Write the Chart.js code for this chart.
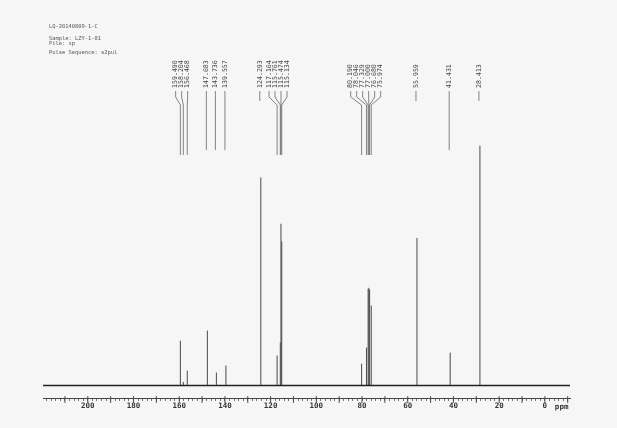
<!DOCTYPE html>
<html><head><meta charset="utf-8">
<script src="https://cdn.jsdelivr.net/npm/chart.js@4.4.1/dist/chart.umd.min.js"></script>
<style>
html,body{margin:0;padding:0;background:#f6f6f6;}
#wrap{position:relative;width:617px;height:428px;overflow:hidden;}
canvas{position:absolute;left:0;top:0;}
.hdr{position:absolute;left:49px;font-family:"DejaVu Sans Mono",monospace;font-size:5.4px;color:#555;white-space:pre;line-height:1;}
</style></head><body>
<div id="wrap">
<canvas id="c" width="617" height="428"></canvas>
<div class="hdr" style="top:23.6px">LQ-20140809-1-C</div>
<div class="hdr" style="top:36px">Sample: LZY-1-81</div>
<div class="hdr" style="top:41px">File: xp</div>
<div class="hdr" style="top:50.3px">Pulse Sequence: s2pul</div>
</div>
<script>
// Chemical shifts (ppm) of the labelled peaks
const peakPpm = [159.490,158.204,156.468,147.683,143.736,139.557,124.293,117.164,115.761,115.474,115.134,80.190,78.046,77.329,77.000,76.680,75.974,55.959,41.431,28.413];
// Peak labels as printed
const peakLabels = ["159.490","158.204","156.468","147.683","143.736","139.557","124.293","117.164","115.761","115.474","115.134","80.190","78.046","77.329","77.000","76.680","75.974","55.959","41.431","28.413"];
// Relative peak intensities (tallest = 100)
const peakHeights = [18.7,1.5,6.2,22.9,5.4,8.3,86.7,12.5,17.9,67.4,60.0,9.1,15.8,40.3,40.7,39.9,33.3,61.5,13.7,100];
// Axis range and tick labels
const ppmMax = 219.6, ppmMin = -11;
const axisLabels = [0,20,40,60,80,100,120,140,160,180,200];

const baselineData = [{x:ppmMax,y:0},{x:ppmMin,y:0}];
const peakData = [];
peakPpm.forEach((p,i)=>{ peakData.push({x:p,y:0},{x:p,y:peakHeights[i]},{x:p,y:null}); });

const peakLabelPlugin = {
  id:'peakLabels',
  afterDraw(chart){
    const xs = chart.scales.x, ctx = chart.ctx;
    const items = peakPpm.map((p,i)=>({px:xs.getPixelForValue(p), txt:peakLabels[i], tall:peakHeights[i]>50}));
    items.sort((a,b)=>a.px-b.px);
    const gap = 6;
    let clusters = items.map(it=>({items:[it], center:it.px}));
    let changed = true;
    while(changed){
      changed = false;
      for(let i=0;i<clusters.length-1;i++){
        const a=clusters[i], b=clusters[i+1];
        const aR=a.center+(a.items.length-1)*gap/2;
        const bL=b.center-(b.items.length-1)*gap/2;
        if(bL-aR<gap){
          const its=a.items.concat(b.items);
          const c=its.reduce((s,t)=>s+t.px,0)/its.length;
          clusters.splice(i,2,{items:its,center:c});
          changed=true; break;
        }
      }
    }
    ctx.save();
    ctx.strokeStyle='#666'; ctx.lineWidth=0.8; ctx.fillStyle='#444';
    ctx.font='6.6px "DejaVu Sans Mono", monospace';
    clusters.forEach(cl=>{
      const n=cl.items.length;
      cl.items.forEach((it,j)=>{
        const lx = n===1 ? it.px - 1 : cl.center - 2 + (j-(n-1)/2)*gap;
        ctx.save();
        ctx.translate(lx, 88);
        ctx.rotate(-Math.PI/2);
        ctx.textAlign='left'; ctx.textBaseline='middle';
        ctx.fillText(it.txt,0,0);
        ctx.restore();
        ctx.beginPath();
        if(n===1){
          ctx.moveTo(lx,91); ctx.lineTo(lx, it.tall ? 101 : 150);
        } else {
          ctx.moveTo(lx,91); ctx.lineTo(lx,97); ctx.lineTo(it.px,105); ctx.lineTo(it.px,155);
        }
        ctx.stroke();
      });
    });
    // major ticks
    ctx.strokeStyle='#444'; ctx.lineWidth=0.9;
    for(let v=-10; v<=ppmMax; v+=10){
      const x=xs.getPixelForValue(v);
      ctx.beginPath(); ctx.moveTo(x,396); ctx.lineTo(x,403); ctx.stroke();
    }
    ctx.fillStyle='#333';
    ctx.font='bold 7.5px "DejaVu Sans Mono", monospace';
    ctx.textAlign='left'; ctx.textBaseline='middle';
    ctx.fillText('ppm', xs.getPixelForValue(0)+10, 407.5);
    ctx.restore();
  }
};

new Chart(document.getElementById('c'), {
  type:'line',
  data:{datasets:[
    {data:baselineData, borderColor:'#222', borderWidth:1.5, pointRadius:0, tension:0},
    {data:peakData, borderColor:'#4a4a4a', borderWidth:1, pointRadius:0, tension:0, spanGaps:false}
  ]},
  options:{
    responsive:false, animation:false, devicePixelRatio:1,
    layout:{padding:{left:43,right:47,top:145.5,bottom:0}},
    plugins:{legend:{display:false}, tooltip:{enabled:false}},
    scales:{
      x:{type:'linear', reverse:true, min:ppmMin, max:ppmMax, position:'bottom',
         afterFit:(s)=>{s.height=30;},
         border:{display:true, color:'#444', width:1},
         grid:{display:true, drawOnChartArea:false, drawTicks:true, tickLength:3, tickColor:'#555', tickWidth:0.8},
         ticks:{stepSize:2, autoSkip:false, maxRotation:0, includeBounds:false, padding:1, color:'#333',
           font:{family:'"DejaVu Sans Mono", monospace', size:7.5, weight:'bold'},
           callback:(v)=> axisLabels.includes(v) ? String(v) : ''}
      },
      y:{display:false, min:-5.21, max:100}
    }
  },
  plugins:[peakLabelPlugin]
});
</script>
</body></html>
